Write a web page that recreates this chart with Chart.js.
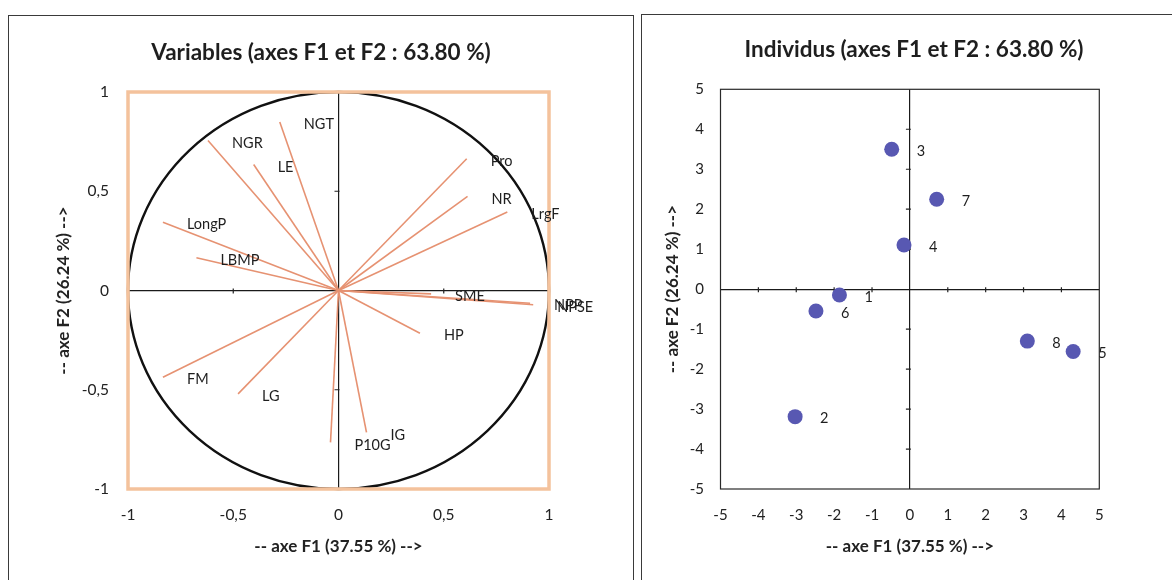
<!DOCTYPE html>
<html><head><meta charset="utf-8">
<script src="https://cdn.jsdelivr.net/npm/chart.js@4.4.1/dist/chart.umd.min.js"></script>
<style>
html,body{margin:0;padding:0;background:#fff;width:1172px;height:580px;overflow:hidden;}
.panel{position:absolute;border:1.5px solid #3a3a3a;box-sizing:border-box;}
canvas{position:absolute;top:0;}
</style></head><body>
<div class="panel" style="left:8px;top:15px;width:626px;height:700px;"></div>
<div class="panel" style="left:641px;top:14px;width:600px;height:700px;"></div>
<canvas id="c1" width="605" height="580" style="left:0"></canvas>
<canvas id="c2" width="582" height="580" style="left:590px"></canvas>
<script>
// ---- data ----
const varNames = ['NGR','NGT','LE','LongP','LBMP','Pro','NR','LrgF','SME','NPP','NPSE','HP','FM','LG','P10G','IG'];
const varF1 = [-0.62,-0.279,-0.403,-0.834,-0.675,0.609,0.613,0.802,0.44,0.91,0.925,0.387,-0.834,-0.477,-0.038,0.133];
const varF2 = [0.756,0.849,0.635,0.344,0.165,0.664,0.474,0.395,-0.017,-0.064,-0.072,-0.215,-0.437,-0.521,-0.765,-0.715];
const varTickLabels = ['-1','-0,5','0','0,5','1'];
const indNames = ['1','2','3','4','5','6','7','8'];
const indF1 = [-1.86,-3.03,-0.48,-0.156,4.31,-2.48,0.707,3.10];
const indF2 = [-0.145,-3.19,3.50,1.106,-1.56,-0.545,2.25,-1.30];
const indTickLabels = ['-5','-4','-3','-2','-1','0','1','2','3','4','5'];
const titleVar = 'Variables (axes F1 et F2 : 63.80 %)';
const titleInd = 'Individus (axes F1 et F2 : 63.80 %)';
const axisF1 = '-- axe F1 (37.55 %) -->';
const axisF2 = '-- axe F2 (26.24 %) -->';

Chart.defaults.font.family = 'Lato, "Open Sans", sans-serif';
Chart.defaults.color = '#222';

const FONT = 'Lato, "Open Sans", sans-serif';

const titlePlugin = {
  id: 'customTitle',
  afterDraw(chart, args, o) {
    const ctx = chart.ctx;
    ctx.save();
    ctx.font = 'bold 22.5px ' + FONT;
    ctx.fillStyle = '#1e1e1e';
    ctx.textAlign = 'center';
    ctx.textBaseline = 'middle';
    ctx.fillText(o.text, o.x, o.y);
    ctx.restore();
  }
};

const axisTicksPlugin = {
  id: 'zeroTicks',
  beforeDatasetsDraw(chart) {
    const ctx = chart.ctx, xs = chart.scales.x, ys = chart.scales.y;
    const x0 = xs.getPixelForValue(0), y0 = ys.getPixelForValue(0);
    ctx.save();
    ctx.strokeStyle = '#222';
    ctx.lineWidth = 1.2;
    ctx.beginPath();
    xs.ticks.forEach(t => {
      if (t.value === 0 || t.value === xs.min || t.value === xs.max) return;
      const p = xs.getPixelForValue(t.value);
      ctx.moveTo(p, y0 - 2); ctx.lineTo(p, y0 + 3);
    });
    ys.ticks.forEach(t => {
      if (t.value === 0 || t.value === ys.min || t.value === ys.max) return;
      const p = ys.getPixelForValue(t.value);
      ctx.moveTo(x0 - 4, p); ctx.lineTo(x0 + 1, p);
    });
    ctx.stroke();
    ctx.restore();
  }
};

const circlePlugin = {
  id: 'corrCircle',
  beforeDatasetsDraw(chart) {
    const ctx = chart.ctx, xs = chart.scales.x, ys = chart.scales.y;
    const x0 = xs.getPixelForValue(0), y0 = ys.getPixelForValue(0);
    const rx = xs.getPixelForValue(1) - x0, ry = y0 - ys.getPixelForValue(1);
    ctx.save();
    ctx.strokeStyle = '#111';
    ctx.lineWidth = 2.4;
    ctx.beginPath();
    ctx.ellipse(x0, y0, rx, ry, 0, 0, Math.PI * 2);
    ctx.stroke();
    ctx.restore();
  }
};

const boxPlugin = {
  id: 'areaBox',
  afterDatasetsDraw(chart, args, o) {
    if (o.front === false) return;
    drawBox(chart, o);
  },
  beforeDatasetsDraw(chart, args, o) {
    if (o.front !== false) return;
    drawBox(chart, o);
  }
};
function drawBox(chart, o) {
  const ctx = chart.ctx, a = chart.chartArea;
  ctx.save();
  ctx.strokeStyle = o.color;
  ctx.lineWidth = o.width;
  ctx.strokeRect(a.left, a.top, a.right - a.left, a.bottom - a.top);
  ctx.restore();
}

const labelPlugin = {
  id: 'endLabels',
  afterDatasetsDraw(chart, args, o) {
    const ctx = chart.ctx;
    ctx.save();
    ctx.font = o.size + 'px ' + FONT;
    ctx.fillStyle = '#1e1e1e';
    ctx.textAlign = 'left';
    ctx.textBaseline = 'middle';
    chart.data.datasets.forEach((ds, i) => {
      const meta = chart.getDatasetMeta(i);
      meta.data.forEach((el, j) => {
        const name = o.names(i, j);
        if (name == null) return;
        ctx.fillText(name, el.x + o.dx, el.y + o.dy);
      });
    });
    ctx.restore();
  }
};

function zeroGrid() {
  return {
    drawTicks: false,
    lineWidth: 1.2,
    color: c => (c.tick && c.tick.value === 0) ? '#1a1a1a' : 'rgba(0,0,0,0)'
  };
}

// ---- chart 1 : variables ----
const vecDatasets = varNames.map((n, i) => ({
  label: n,
  data: [{x: 0, y: 0}, {x: varF1[i], y: varF2[i]}],
  showLine: true,
  borderColor: '#e69272',
  borderWidth: 1.6,
  pointRadius: 0,
  fill: false
}));

new Chart(document.getElementById('c1'), {
  type: 'scatter',
  data: { datasets: vecDatasets },
  plugins: [titlePlugin, circlePlugin, axisTicksPlugin, boxPlugin, labelPlugin],
  options: {
    responsive: false, animation: false, events: [],
    layout: { padding: { top: 92, right: 56, bottom: 0, left: 0 } },
    plugins: {
      legend: { display: false }, tooltip: { enabled: false },
      customTitle: { text: titleVar, x: 321, y: 53 },
      areaBox: { color: '#f4c29c', width: 3.5, front: true },
      endLabels: { size: 14.5, dx: 24, dy: 2.5, names: (i, j) => j === 1 ? varNames[i] : null }
    },
    scales: {
      x: {
        type: 'linear', min: -1, max: 1,
        ticks: { stepSize: 0.5, autoSkip: false, maxRotation: 0, padding: 17, font: { size: 15.5 }, color: '#222',
                 callback: (v, i) => varTickLabels[i] },
        grid: zeroGrid(), border: { display: false },
        title: { display: true, text: axisF1, font: { size: 17, weight: 'bold' }, color: '#222', padding: { top: 0, bottom: 22.8 } },
        afterFit: s => { s.height = 91; }
      },
      y: {
        type: 'linear', min: -1, max: 1,
        ticks: { stepSize: 0.5, autoSkip: false, padding: 19, font: { size: 15.5 }, color: '#222',
                 callback: (v, i) => varTickLabels[i] },
        grid: zeroGrid(), border: { display: false },
        title: { display: true, text: axisF2, font: { size: 17, weight: 'bold' }, color: '#222', padding: { top: 53.8, bottom: 0 } },
        afterFit: s => { s.width = 128; }
      }
    }
  }
});

// ---- chart 2 : individus ----
new Chart(document.getElementById('c2'), {
  type: 'scatter',
  data: {
    datasets: [{
      label: 'Individus',
      data: indNames.map((n, i) => ({ x: indF1[i], y: indF2[i] })),
      pointRadius: 7.5,
      backgroundColor: '#5858b2',
      borderWidth: 0
    }]
  },
  plugins: [titlePlugin, axisTicksPlugin, boxPlugin, labelPlugin],
  options: {
    responsive: false, animation: false, events: [],
    layout: { padding: { top: 89.3, right: 72.7, bottom: 0, left: 0 } },
    plugins: {
      legend: { display: false }, tooltip: { enabled: false },
      customTitle: { text: titleInd, x: 324, y: 50 },
      areaBox: { color: '#2a2a2a', width: 1.2, front: false },
      endLabels: { size: 14.5, dx: 25, dy: 2, names: (i, j) => indNames[j] }
    },
    scales: {
      x: {
        type: 'linear', min: -5, max: 5,
        ticks: { stepSize: 1, autoSkip: false, maxRotation: 0, padding: 17.5, font: { size: 15 }, color: '#222',
                 callback: (v, i) => indTickLabels[i] },
        grid: zeroGrid(), border: { display: false },
        title: { display: true, text: axisF1, font: { size: 17, weight: 'bold' }, color: '#222', padding: { top: 0, bottom: 22.8 } },
        afterFit: s => { s.height = 91; }
      },
      y: {
        type: 'linear', min: -5, max: 5,
        ticks: { stepSize: 1, autoSkip: false, padding: 16.5, font: { size: 15 }, color: '#222',
                 callback: (v, i) => indTickLabels[i] },
        grid: zeroGrid(), border: { display: false },
        title: { display: true, text: axisF2, font: { size: 17, weight: 'bold' }, color: '#222', padding: { top: 72.3, bottom: 0 } },
        afterFit: s => { s.width = 130.5; }
      }
    }
  }
});
</script>
</body></html>
